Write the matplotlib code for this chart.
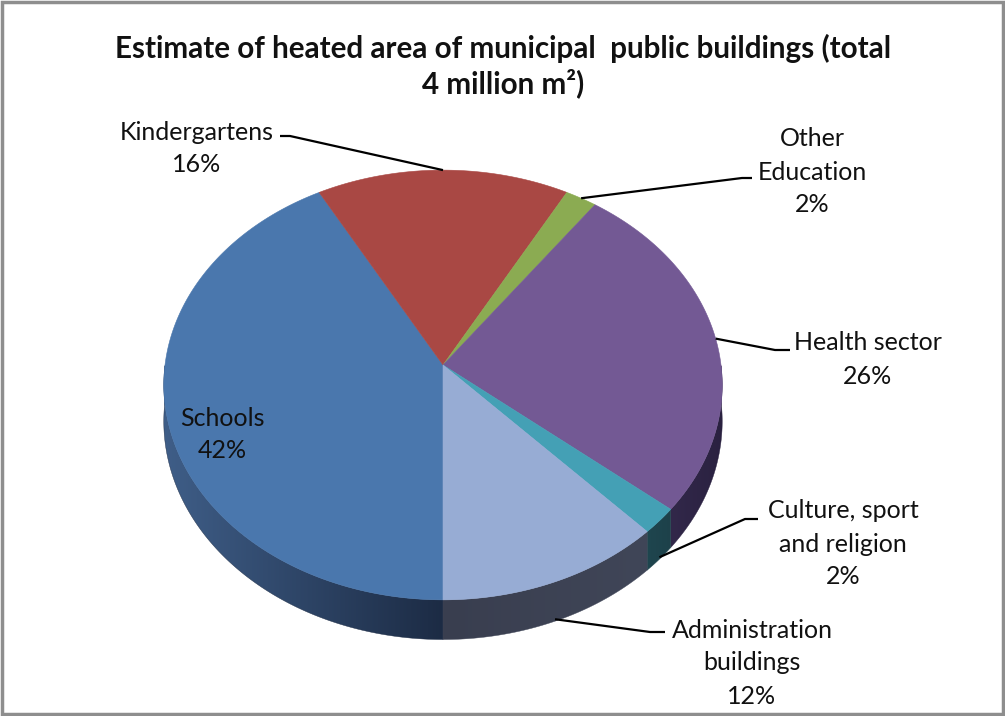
import numpy as np
import matplotlib.pyplot as plt
from matplotlib.patches import Polygon, Rectangle
from matplotlib.colors import to_rgb

plt.rcParams['font.family'] = ['Lato', 'DejaVu Sans']

# share of heated area, %
categories = ["Schools", "Kindergartens", "Other\nEducation", "Health sector",
              "Culture, sport\nand religion", "Administration\nbuildings"]
shares = [42, 16, 2, 26, 2, 12]

top_colors = ["#4a77ad", "#a94844", "#8bab52", "#735994", "#44a0b5", "#97acd4"]
# wall shading, (left end, right end)
side_colors = [("#3f5e88", "#1c2b44"), ("#5e2725", "#5e2725"), ("#4d5f2c", "#4d5f2c"),
               ("#32284a", "#2a2140"), ("#1f464f", "#1d414a"), ("#393e4f", "#404658")]

# label centres (x, y of first line) and leader elbows
label_pos = [(222, 418), (197, 132), (812, 139), (868, 343), (843, 511), (752, 630)]
elbows = [None, [(290, 136), (280, 136)], [(742, 178), (752, 178)],
          [(775, 350), (790, 350)], [(745, 519), (758, 519)], [(650, 632), (665, 632)]]

# projected disc geometry (pixel space)
cx, cy = 443, 365
rx, ky, persp = 278, 213, 0.093
depth = 36


def edge(t):
    s = 1 + persp * np.sin(t)
    return cx + rx * np.cos(t) / s, cy - ky * np.sin(t) / s


def thick(t):
    return depth / (1 + persp * np.sin(t))


fig = plt.figure(figsize=(10.05, 7.16), dpi=100)
ax = fig.add_axes([0, 0, 1, 1])

fracs = np.array(shares) / sum(shares)
bounds = np.concatenate([[0], np.cumsum(fracs)])
angles = -np.pi / 2 - 2 * np.pi * bounds

# side walls, only the near half (sin t < 0) shows
for i in range(len(shares)):
    t0, t1 = angles[i], angles[i + 1]
    ts = np.linspace(t0, t1, 400)
    ts = ts[np.sin(ts) <= 0]
    if len(ts) < 2:
        continue
    xs, ys = edge(ts)
    ds = thick(ts)
    pts = list(zip(xs, ys)) + list(zip(xs[::-1], (ys + ds)[::-1]))
    wall = Polygon(pts, closed=True, fc='none', ec='none')
    ax.add_patch(wall)
    x0, x1 = xs.min(), xs.max()
    c0, c1 = np.array(to_rgb(side_colors[i][0])), np.array(to_rgb(side_colors[i][1]))
    w = np.linspace(0, 1, 256)[:, None]
    grad = (c0 * (1 - w) + c1 * w)[None, :, :]
    im = ax.imshow(grad, extent=(x0 - 1, x1 + 1, (ys + ds).max() + 1, ys.min() - 1),
                   aspect='auto', interpolation='bilinear', zorder=1)
    im.set_clip_path(wall)
    ax.add_patch(Polygon(pts, closed=True, fc='none', ec=side_colors[i][1], lw=0.3, zorder=1))

# top face
for i in range(len(shares)):
    ts = np.linspace(angles[i], angles[i + 1], 200)
    xs, ys = edge(ts)
    pts = [(cx, cy)] + list(zip(xs, ys))
    ax.add_patch(Polygon(pts, closed=True, fc=top_colors[i], ec=top_colors[i],
                         lw=0.4, zorder=2))

# labels and leader lines
for i, name in enumerate(categories):
    lx, ly = label_pos[i]
    lines = name.split("\n") + [f"{shares[i]}%"]
    for k, ln in enumerate(lines):
        ax.text(lx, ly + k * 33, ln, ha='center', va='center', fontsize=18,
                color='#111111', zorder=4)
    if elbows[i] is None:
        continue
    mid = (angles[i] + angles[i + 1]) / 2
    axp, ayp = edge(mid)
    if np.sin(mid) < -0.3:
        ayp += 0.95 * thick(mid)
    path = [(axp, ayp)] + elbows[i]
    ax.plot([p[0] for p in path], [p[1] for p in path], color='black', lw=1.6,
            solid_capstyle='butt', zorder=3)

ax.text(503, 48, "Estimate of heated area of municipal  public buildings (total",
        ha='center', va='center', fontsize=21.3, fontweight='bold', color='#111111')
ax.text(503, 83, "4 million m²)", ha='center', va='center', fontsize=21.3,
        fontweight='bold', color='#111111')

ax.add_patch(Rectangle((1.5, 1.5), 1001, 712, fill=False, ec='#8e8e8e', lw=2.5, zorder=5))

ax.set_xlim(0, 1005)
ax.set_ylim(716, 0)
ax.axis('off')

fig.savefig("out.png", dpi=100)
